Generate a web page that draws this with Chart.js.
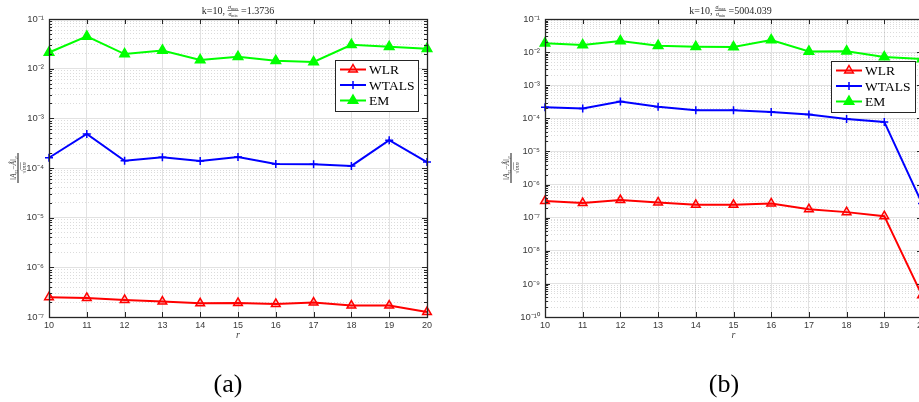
<!DOCTYPE html>
<html>
<head>
<meta charset="utf-8">
<script src="https://cdn.jsdelivr.net/npm/chart.js@4.4.1/dist/chart.umd.min.js"></script>
<style>
html,body{margin:0;padding:0;background:#fff;overflow:hidden;}
#wrap{position:relative;width:919px;height:402px;overflow:hidden;}
#boxA{position:absolute;left:0;top:0;width:460px;height:402px;}
#boxB{position:absolute;left:460px;top:0;width:500px;height:402px;}
</style>
</head>
<body>
<div id="wrap">
  <div id="boxA"><canvas id="chartA" width="460" height="402"></canvas></div>
  <div id="boxB"><canvas id="chartB" width="500" height="402"></canvas></div>
</div>
<script>
// x categories (r)
const ranks = ['10','11','12','13','14','15','16','17','18','19','20'];
const seriesNames = ['WLR', 'WTALS', 'EM'];

// (a) sigma_max/sigma_min = 1.3736
const wlrA   = [2.50e-7, 2.42e-7, 2.20e-7, 2.05e-7, 1.89e-7, 1.92e-7, 1.83e-7, 1.95e-7, 1.70e-7, 1.70e-7, 1.26e-7];
const wtalsA = [1.61e-4, 4.85e-4, 1.40e-4, 1.64e-4, 1.38e-4, 1.67e-4, 1.20e-4, 1.19e-4, 1.10e-4, 3.62e-4, 1.32e-4];
const emA    = [2.12e-2, 4.46e-2, 1.97e-2, 2.33e-2, 1.49e-2, 1.73e-2, 1.44e-2, 1.36e-2, 3.03e-2, 2.76e-2, 2.52e-2];
const decadesA = [-7, -6, -5, -4, -3, -2, -1];

// (b) sigma_max/sigma_min = 5004.039
const wlrB   = [3.17e-7, 2.75e-7, 3.40e-7, 2.89e-7, 2.45e-7, 2.45e-7, 2.69e-7, 1.81e-7, 1.47e-7, 1.11e-7, 4.5e-10];
const wtalsB = [2.17e-4, 1.97e-4, 3.21e-4, 2.22e-4, 1.76e-4, 1.76e-4, 1.56e-4, 1.30e-4, 9.6e-5, 7.8e-5, 2.7e-7];
const emB    = [1.84e-2, 1.63e-2, 2.16e-2, 1.56e-2, 1.45e-2, 1.42e-2, 2.31e-2, 1.05e-2, 1.07e-2, 7.08e-3, 6.2e-3];
const decadesB = [-10, -9, -8, -7, -6, -5, -4, -3, -2, -1];

const SERIF = '"Liberation Serif", "Times New Roman", serif';
const SANS = '"Liberation Sans", Arial, sans-serif';
const supMap = {'-':'\u207B','0':'\u2070','1':'\u00B9','2':'\u00B2','3':'\u00B3','4':'\u2074','5':'\u2075','6':'\u2076','7':'\u2077','8':'\u2078','9':'\u2079'};

function isDecade(v) {
  const e = Math.log10(v);
  return Math.abs(e - Math.round(e)) < 1e-9;
}
function decadeLabel(v) {
  const e = String(Math.round(Math.log10(v)));
  return '10' + e.split('').map(c => supMap[c]).join('');
}
// ticks at 1..9 x 10^k between the first and last decade
function logTicks(decades) {
  const t = [];
  for (let i = 0; i < decades.length - 1; i++) {
    for (let m = 1; m < 10; m++) t.push({value: m * Math.pow(10, decades[i])});
  }
  t.push({value: Math.pow(10, decades[decades.length - 1])});
  return t;
}

// small helper to draw runs of text with different fonts / offsets, centred on cx
function drawRuns(ctx, runs, cx, baseY) {
  let w = 0;
  runs.forEach(r => { ctx.font = r.font; r.w = ctx.measureText(r.t).width; w += r.w; });
  let x = cx - w / 2;
  runs.forEach(r => { ctx.font = r.font; ctx.fillText(r.t, x, baseY + (r.dy || 0)); x += r.w; });
  return w;
}

function drawMarker(ctx, style, x, y, r, color, fill) {
  ctx.save();
  ctx.strokeStyle = color; ctx.lineWidth = 1.5; ctx.fillStyle = fill;
  ctx.beginPath();
  if (style === 'triangle') {
    ctx.moveTo(x, y - r);
    ctx.lineTo(x + r * 0.866, y + r / 2);
    ctx.lineTo(x - r * 0.866, y + r / 2);
    ctx.closePath();
    ctx.fill(); ctx.stroke();
  } else {
    ctx.moveTo(x - r, y); ctx.lineTo(x + r, y);
    ctx.moveTo(x, y - r); ctx.lineTo(x, y + r);
    ctx.stroke();
  }
  ctx.restore();
}

// matlab-like frame: box, inner ticks, title, axis labels, legend
const frame = {
  id: 'frame',
  afterDraw(chart, args, o) {
    const {ctx, chartArea: a} = chart;
    const ys = chart.scales.y, xs = chart.scales.x;
    ctx.save();
    ctx.strokeStyle = '#262626';
    ctx.lineWidth = 1;
    ctx.beginPath();
    ys.ticks.forEach(t => {
      const py = Math.round(ys.getPixelForValue(t.value)) + 0.5;
      const len = isDecade(t.value) ? 5 : 3;
      ctx.moveTo(a.left, py); ctx.lineTo(a.left + len, py);
      ctx.moveTo(a.right, py); ctx.lineTo(a.right - len, py);
    });
    xs.ticks.forEach((t, i) => {
      const px = Math.round(xs.getPixelForTick(i)) + 0.5;
      ctx.moveTo(px, a.bottom); ctx.lineTo(px, a.bottom - 5);
      ctx.moveTo(px, a.top); ctx.lineTo(px, a.top + 5);
    });
    ctx.stroke();
    ctx.lineWidth = 1.3;
    ctx.strokeRect(Math.round(a.left) + 0.5, Math.round(a.top) + 0.5, Math.round(a.right - a.left), Math.round(a.bottom - a.top));

    // title
    const cx = (a.left + a.right) / 2 + o.titleShift;
    ctx.fillStyle = '#262626';
    ctx.textBaseline = 'alphabetic';
    ctx.font = '10px ' + SERIF;
    const w1 = ctx.measureText('k=10, ').width;
    const w3 = ctx.measureText(' =' + o.ratio).width;
    ctx.font = '6px ' + SERIF;
    const wf = ctx.measureText('\u03C3').width + 8;
    let x0 = cx - (w1 + wf + w3) / 2;
    ctx.font = '10px ' + SERIF;
    ctx.fillText('k=10, ', x0, 14);
    x0 += w1;
    drawRuns(ctx, [{t:'\u03C3', font:'italic 6px ' + SERIF}, {t:'max', font:'4px ' + SERIF, dy:1}], x0 + wf / 2, 9);
    drawRuns(ctx, [{t:'\u03C3', font:'italic 6px ' + SERIF}, {t:'min', font:'4px ' + SERIF, dy:1}], x0 + wf / 2, 15.5);
    ctx.fillRect(x0, 10.3, wf, 0.6);
    x0 += wf;
    ctx.font = '10px ' + SERIF;
    ctx.fillText(' =' + o.ratio, x0, 14);

    // x label
    ctx.fillStyle = '#404040';
    ctx.font = 'italic 10px ' + SERIF;
    ctx.textAlign = 'center';
    ctx.fillText('r', (a.left + a.right) / 2, 338);
    ctx.textAlign = 'left';

    // y label (rotated fraction)
    ctx.save();
    ctx.translate(o.ylabX, 168);
    ctx.rotate(-Math.PI / 2);
    drawRuns(ctx, [
      {t:'\u2016A', font:'italic 7.5px ' + SERIF},
      {t:'G', font:'italic 5px ' + SERIF, dy:1.5},
      {t:'\u2212', font:'7.5px ' + SERIF},
      {t:'\u00C2', font:'italic 7.5px ' + SERIF},
      {t:'\u2016', font:'7.5px ' + SERIF},
      {t:'F', font:'italic 5px ' + SERIF, dy:1.5}
    ], 0, -2);
    ctx.fillRect(-15, -0.6, 30, 1.2);
    const wd = drawRuns(ctx, [{t:'\u221A', font:'6.5px ' + SERIF}, {t:'mn', font:'italic 6.5px ' + SERIF}], 0, 7.5);
    ctx.fillRect(-wd / 2 + 4, 2.4, wd - 4, 0.5);
    ctx.restore();

    // subplot letter
    ctx.fillStyle = '#000';
    ctx.font = '26px ' + SERIF;
    ctx.textAlign = 'center';
    ctx.fillText(o.letter, o.letterX, 392);
    ctx.textAlign = 'left';

    // legend
    const L = o.legend;
    ctx.fillStyle = '#fff';
    ctx.fillRect(L.x, L.y, L.w, L.h);
    ctx.strokeStyle = '#262626';
    ctx.lineWidth = 1;
    ctx.strokeRect(L.x + 0.5, L.y + 0.5, L.w, L.h);
    chart.data.datasets.forEach((ds, i) => {
      const ry = L.y + 9.5 + i * 15.5;
      ctx.strokeStyle = ds.borderColor;
      ctx.lineWidth = 2;
      ctx.beginPath();
      ctx.moveTo(L.x + 5, ry); ctx.lineTo(L.x + 31, ry);
      ctx.stroke();
      drawMarker(ctx, ds.pointStyle, L.x + 18, ry, ds.pointRadius, ds.borderColor, ds.pointBackgroundColor);
      ctx.fillStyle = '#000';
      ctx.font = '13.5px ' + SERIF;
      ctx.fillText(ds.label, L.x + 34, ry + 4.8);
    });
    ctx.restore();
  }
};

function makeChart(id, series, decades, pad, yWidth, fr) {
  const colors = ['#ff0000', '#0000ff', '#00ff00'];
  const fills = ['rgba(255,0,0,0.18)', '#0000ff', '#00ff00'];
  const styles = ['triangle', 'cross', 'triangle'];
  const radii = [5, 4, 5.5];
  return new Chart(document.getElementById(id), {
    type: 'line',
    data: {
      labels: ranks,
      datasets: series.map((d, i) => ({
        label: seriesNames[i],
        data: d,
        borderColor: colors[i],
        backgroundColor: colors[i],
        pointBackgroundColor: fills[i],
        pointBorderColor: colors[i],
        pointBorderWidth: 1.5,
        pointStyle: styles[i],
        pointRadius: radii[i],
        borderWidth: 2,
        tension: 0,
        clip: false
      }))
    },
    options: {
      responsive: false,
      animation: false,
      devicePixelRatio: 1,
      layout: {padding: pad},
      plugins: {legend: {display: false}, tooltip: {enabled: false}, frame: fr},
      scales: {
        x: {
          type: 'category',
          offset: false,
          afterFit: s => { s.height = 85; },
          grid: {color: '#e2e2e2', lineWidth: 1, drawTicks: false},
          border: {display: false},
          ticks: {autoSkip: false, maxRotation: 0, padding: 3, color: '#3a3a3a', font: {family: SANS, size: 9}}
        },
        y: {
          type: 'logarithmic',
          min: Math.pow(10, decades[0]),
          max: Math.pow(10, decades[decades.length - 1]),
          afterBuildTicks: s => { s.ticks = logTicks(decades); },
          afterFit: s => { s.width = yWidth; },
          grid: {
            color: c => (c.tick && !isDecade(c.tick.value)) ? 'rgba(0,0,0,0.14)' : '#e2e2e2',
            lineWidth: 1,
            drawTicks: false
          },
          border: {display: false, dash: c => (c.tick && !isDecade(c.tick.value)) ? [1, 2] : []},
          ticks: {
            autoSkip: false,
            padding: 5,
            color: '#3a3a3a',
            font: {family: SANS, size: 9.5},
            callback: v => isDecade(v) ? decadeLabel(v) : ''
          }
        }
      }
    },
    plugins: [frame]
  });
}

makeChart('chartA', [wlrA, wtalsA, emA], decadesA, {left: 0, top: 19, right: 33, bottom: 0}, 49,
  {ratio: '1.3736', letter: '(a)', letterX: 228, ylabX: 18, titleShift: 0,
   legend: {x: 335, y: 60, w: 83, h: 51}});
makeChart('chartB', [wlrB, wtalsB, emB], decadesB, {left: 0, top: 19, right: 38, bottom: 0}, 85,
  {ratio: '5004.039', letter: '(b)', letterX: 264, ylabX: 51, titleShift: -3,
   legend: {x: 371, y: 61, w: 84, h: 51}});
</script>
</body>
</html>
